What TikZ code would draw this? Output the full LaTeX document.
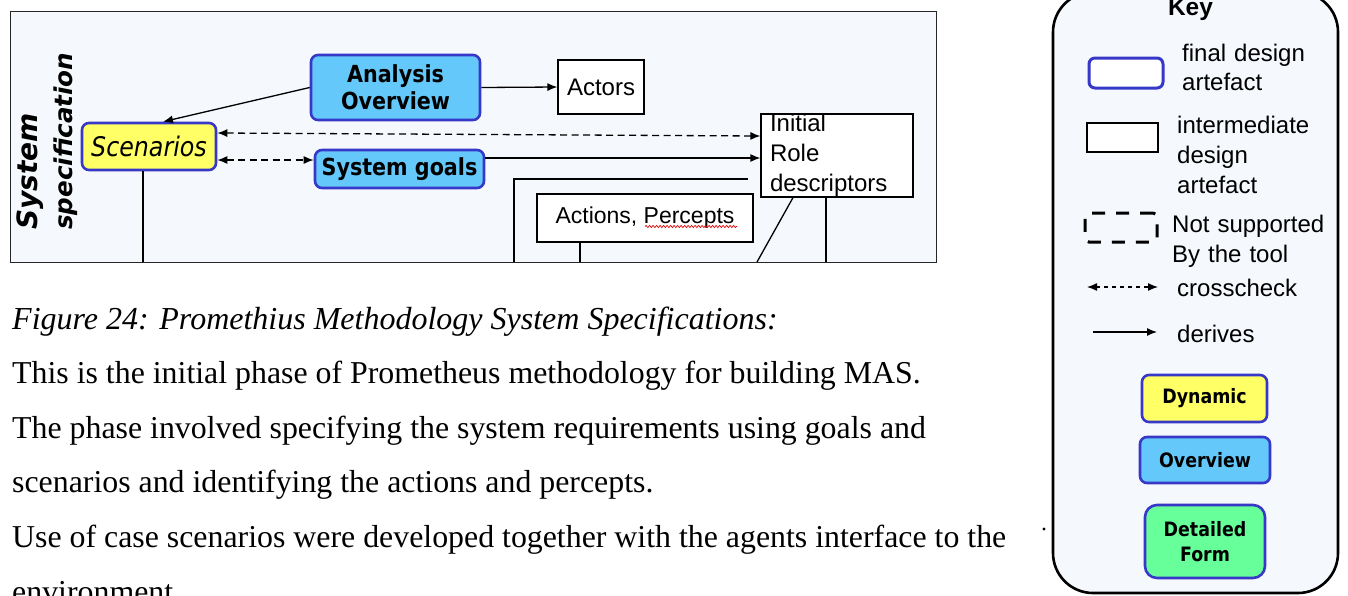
\documentclass[tikz,border=0pt]{standalone}
\usepackage{fontspec}
\setmainfont{Liberation Serif}
\newfontfamily\arialfont{Liberation Sans}
\newfontfamily\verfont{DejaVu Sans}
\newfontfamily\tahfont[FakeStretch=0.88]{DejaVu Sans}
\usetikzlibrary{arrows.meta,decorations.pathmorphing}

\definecolor{frameback}{RGB}{245,248,252}
\definecolor{artblue}{RGB}{55,55,200}
\definecolor{skyfill}{RGB}{100,200,250}
\definecolor{yelfill}{RGB}{255,255,102}
\definecolor{grnfill}{RGB}{102,255,153}

\begin{document}
\begin{tikzpicture}[x=1pt,y=-1pt,
  phaseframe/.style={draw=black!85, line width=1pt, fill=frameback, inner sep=0pt,
    minimum width=926pt, minimum height=251pt},
  finalbox/.style={draw=artblue, line width=2.6pt, rounded corners=7pt, inner sep=0pt, align=center},
  overbox/.style={finalbox, fill=skyfill, font=\tahfont\bfseries\fontsize{23.5}{27}\selectfont},
  dynbox/.style={finalbox, fill=yelfill, font=\tahfont\itshape\fontsize{27}{30}\selectfont},
  interbox/.style={draw=black, line width=1.2pt, fill=white, inner sep=0pt,
    font=\arialfont\fontsize{24}{30}\selectfont},
  legendbox/.style={finalbox, font=\tahfont\bfseries\fontsize{19.8}{25}\selectfont},
  derive/.style={line width=1.3pt, -{Latex[length=10pt,width=8pt]}},
  cross/.style={line width=1.3pt, dash pattern=on 7pt off 4.5pt,
    {Latex[length=10pt,width=8pt]}-{Latex[length=10pt,width=8pt]}},
  plainline/.style={line width=1.3pt},
  keytext/.style={font=\arialfont\fontsize{24}{30}\selectfont, inner sep=0pt,
    anchor=base west, align=left, text width=165pt},
  bodytext/.style={font=\fontsize{31.85}{38}\selectfont, inner sep=0pt, anchor=base west},
  titletext/.style={rotate=90, anchor=base west, inner sep=0pt}
]
\useasboundingbox (0,0) rectangle (1348,595);
\fill[white] (0,0) rectangle (1348,595);

% ---------- system specification phase ----------
\node[phaseframe] (frame) at (473,136.5) {};

\node[titletext, font=\verfont\bfseries\itshape\fontsize{28}{30}\selectfont] (systitle) at (37,230) {System};
\node[titletext, font=\verfont\bfseries\itshape\fontsize{24.6}{28}\selectfont] (spectitle) at (72,230) {specification};

\node[dynbox, minimum width=134pt, minimum height=47pt] (scen) at (149,146.5) {Scenarios};
\node[overbox, minimum width=169pt, minimum height=65pt] (ana) at (395.5,87.5) {Analysis\\Overview};
\node[overbox, minimum width=169pt, minimum height=38pt] (goals) at (399.5,169) {System goals};
\node[interbox, minimum width=86pt, minimum height=54pt] (actors) at (601,87) {Actors};
\node[interbox, minimum width=152pt, minimum height=83pt, text width=134pt, align=left,
      inner xsep=9pt, inner ysep=0pt] (role) at (837,155.5) {Initial\\Role\\descriptors};
\node[interbox, font=\arialfont\fontsize{23}{28}\selectfont, minimum width=216pt, minimum height=48pt]
      (acts) at (645,218) {Actions, Percepts};

% spelling mark under "Percepts"
\coordinate (sq1) at (645,226.5);
\coordinate (sq2) at (737,226.5);
\draw[red!85!black, line width=0.7pt, decorate,
      decoration={snake, amplitude=1.1pt, segment length=3.5pt}] (sq1) -- (sq2);

% connectors
\draw[derive] (ana.west) -- ([xshift=14pt]scen.north);
\draw[derive] (ana.east) -- (actors.west);
\draw[cross] ([yshift=13.5pt]scen.east) -- ([yshift=19.5pt]role.west);
\draw[cross] ([yshift=-13.5pt]scen.east) -- ([yshift=9pt]goals.west);
\draw[derive] ([yshift=11pt]goals.east) -- ([yshift=-2.5pt]role.west);

% lines running on below the frame
\coordinate (b0) at (143,262);
\coordinate (b1) at (514,262);
\coordinate (b2) at (580,262);
\coordinate (b3) at (757,262);
\coordinate (b4) at (826,262);
\draw[plainline] ([xshift=-6pt]scen.south) -- (b0);
\draw[plainline] ([shift={(-12pt,-23.5pt)}]role.west) -| (b1);
\draw[plainline] ([xshift=-65pt]acts.south) -- (b2);
\draw[plainline] ([xshift=-44pt]role.south) -- (b3);
\draw[plainline] ([xshift=-11pt]role.south) -- (b4);

% ---------- caption and description ----------
\node[bodytext, font=\itshape\fontsize{32}{38}\selectfont] (cap) at (12,329)
  {Figure 24: Promethius Methodology System Specifications:};
\node[bodytext] (l1) at (12,383.6) {This is the initial phase of Prometheus methodology for building MAS.};
\node[bodytext] (l2) at (12,438.2) {The phase involved specifying the system requirements using goals and};
\node[bodytext] (l3) at (12,492.8) {scenarios and identifying the actions and percepts.};
\node[bodytext] (l4) at (12,547.4) {Use of case scenarios were developed together with the agents interface to the};
\node[bodytext] (l5) at (12,602) {environment.};

% ---------- key ----------
\node[draw=black, line width=2.6pt, fill=frameback, rounded corners=40pt, inner sep=0pt,
      minimum width=285pt, minimum height=601pt] (key) at (1195.5,292.5) {};
\node[font=\arialfont\bfseries\fontsize{24.5}{28}\selectfont, anchor=base, inner sep=0pt]
      (keytitle) at (1190.5,15) {Key};

\node[finalbox, fill=white, rounded corners=6pt, line width=3pt, minimum width=74pt, minimum height=30pt]
      (kfinal) at (1126,73) {};
\node[keytext, text width=150pt, font=\arialfont\fontsize{24}{29}\selectfont] (tfinal) at (1182,61) {final design\\artefact};

\node[interbox, minimum width=71pt, minimum height=29pt] (kinter) at (1122.5,137.5) {};
\node[keytext] (tinter) at (1177,133) {intermediate\\design\\artefact};

\node[draw=black, line width=3pt, dash pattern=on 13pt off 11pt, rounded corners=4pt,
      minimum width=72pt, minimum height=29pt, inner sep=0pt] (kdash) at (1121,227.5) {};
\node[keytext] (tdash) at (1172,232) {Not supported\\By the tool};

\coordinate (c1) at (1087,287);
\coordinate (c2) at (1158,287);
\draw[cross, dash pattern=on 4pt off 4pt] (c1) -- (c2);
\node[keytext] (tcross) at (1177,296) {crosscheck};

\coordinate (d1) at (1093,332);
\coordinate (d2) at (1157,332);
\draw[derive] (d1) -- (d2);
\node[keytext] (tderive) at (1177,342) {derives};

\node[legendbox, fill=yelfill, minimum width=125pt, minimum height=47pt] (kdyn) at (1204.5,398.5) {Dynamic};
\node[legendbox, fill=skyfill, minimum width=130pt, minimum height=46pt] (kover) at (1205,460) {Overview};
\node[legendbox, fill=grnfill, rounded corners=12pt, minimum width=120pt, minimum height=73pt]
      (kdet) at (1205,541.5) {Detailed\\Form};

\fill (1044,529) circle (1.6pt);
\end{tikzpicture}
\end{document}
